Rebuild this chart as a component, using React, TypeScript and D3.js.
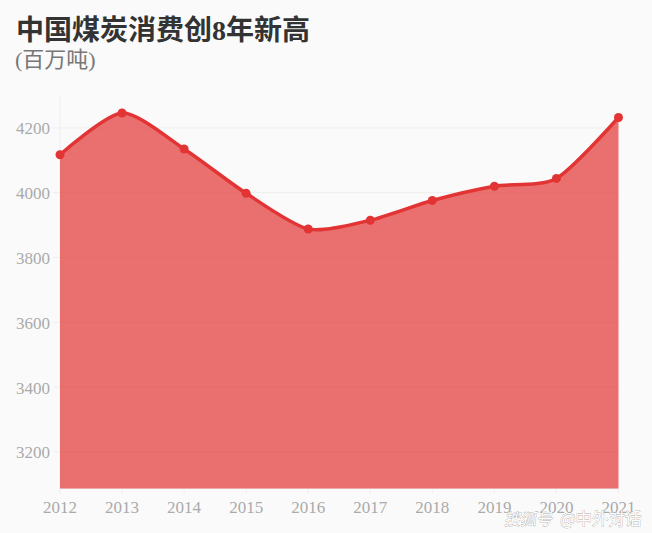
import * as d3 from "d3";

const YEARS = [2012, 2013, 2014, 2015, 2016, 2017, 2018, 2019, 2020, 2021];
const CONSUMPTION = [4117, 4246, 4135, 3998, 3888, 3915, 3976, 4020, 4044, 4232];
const Y_TICKS = [3200, 3400, 3600, 3800, 4000, 4200];

const W = 652, H = 533;
const FONT = `"Liberation Serif", "Noto Sans CJK SC", serif`;

export default function App() {
  const xS = d3.scalePoint<number>().domain(YEARS).range([60, 618.5]);
  const yS = d3.scaleLinear().domain([3087, 4300]).range([488.5, 95.5]);
  const curve = d3.curveCardinal.tension(0.25);

  const line = d3.line<number>().x((_, i) => xS(YEARS[i])!).y(d => yS(d)).curve(curve);
  const area = d3.area<number>().x((_, i) => xS(YEARS[i])!).y0(yS(3087)).y1(d => yS(d)).curve(curve);

  return (
    <svg width={W} height={H} style={{ position: "fixed", left: 0, top: 0, background: "#fafafa" }} fontFamily={FONT}>
      <text x={16} y={40} fontSize={28} fontWeight="bold" fill="#333">中国煤炭消费创8年新高</text>
      <text x={15} y={67} fontSize={22} fill="#777">(百万吨)</text>

      {Y_TICKS.map(v => (
        <g key={v}>
          <line x1={53} x2={618.5} y1={yS(v)} y2={yS(v)} stroke="#eeeeee" />
          <text x={50} y={yS(v) + 0.5} dy="0.35em" textAnchor="end" fontSize={17} fill="#aaa">{v}</text>
        </g>
      ))}
      <line x1={60} x2={60} y1={95.5} y2={488.5} stroke="#eeeeee" />
      <line x1={60} x2={618.5} y1={488.5} y2={488.5} stroke="#eeeeee" />
      {YEARS.map(y => (
        <g key={y}>
          <line x1={xS(y)} x2={xS(y)} y1={488.5} y2={493} stroke="#eeeeee" />
          <text x={xS(y)} y={513} textAnchor="middle" fontSize={17} fill="#aaa">{y}</text>
        </g>
      ))}

      <path d={area(CONSUMPTION)!} fill="#e33434" fillOpacity={0.7} />
      <path d={line(CONSUMPTION)!} fill="none" stroke="#e23434" strokeWidth={3.5} />
      {CONSUMPTION.map((v, i) => (
        <circle key={YEARS[i]} cx={xS(YEARS[i])} cy={yS(v)} r={4.5} fill="#e23434" />
      ))}

      <g fontFamily={`"Noto Sans CJK SC", sans-serif`} fill="#fff" stroke="#888" strokeWidth={0.5} paintOrder="stroke">
        <text x={504} y={525} fontSize={16} fontStyle="italic">搜狐号</text>
        <text x={560} y={525} fontSize={16.5}>@中外对话</text>
      </g>
    </svg>
  );
}
